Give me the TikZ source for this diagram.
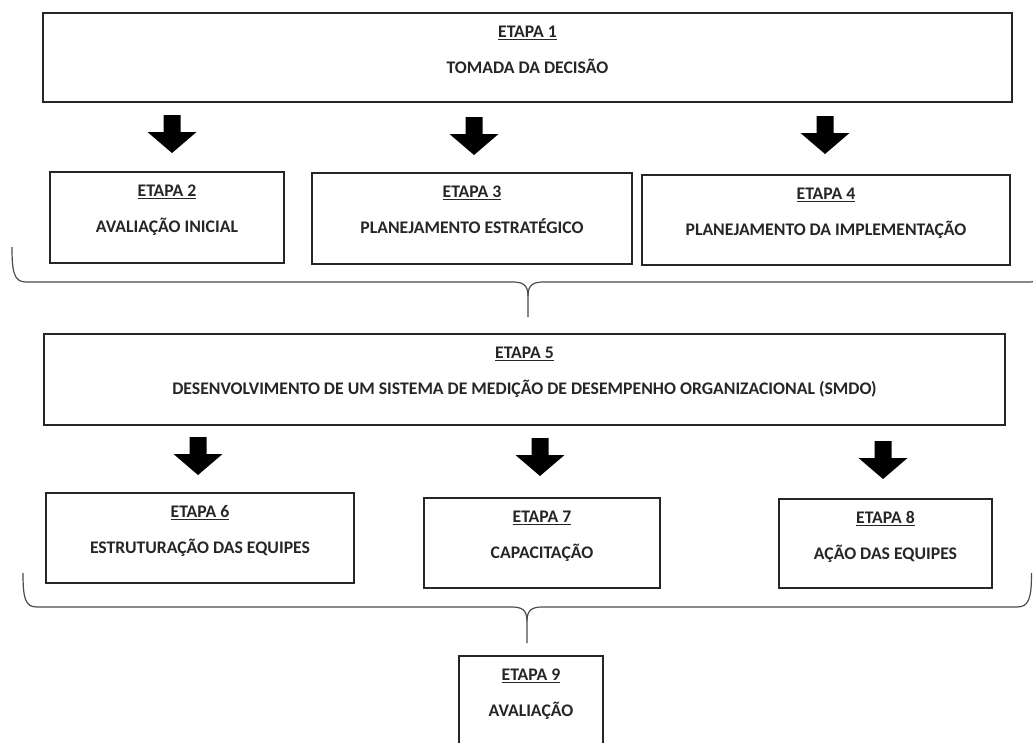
\documentclass[tikz,border=0pt]{standalone}
\usepackage{fontspec}
\setmainfont{Carlito}
\usetikzlibrary{calc}
\newcommand\mkbox[7]{%
  \node[box,minimum width=#4pt,minimum height=#5pt] (#1) at (#2,#3) {};
  \node[lbl,anchor=base] (#1e) at ($(#1.north)+(0,25.5)$) {\underline{ETAPA #6}};
  \node[lbl,anchor=base] (#1t) at ($(#1.north)+(0,61.5)$) {#7};}
\begin{document}
\begin{tikzpicture}[x=1pt,y=-1pt,
  box/.style={draw=black!85, line width=1.5pt, rectangle, inner sep=0pt, fill=white},
  lbl/.style={font=\bfseries\fontsize{17.7}{21}\selectfont, text=black!85, inner sep=0pt},
  brace/.style={draw=black!70, line width=1.2pt},
  bigarrow/.pic={\fill[black] (-8.5,0) -- (8.5,0) -- (8.5,17) -- (24.5,17) -- (0,38) -- (-24.5,17) -- (-8.5,17) -- cycle;}]
\clip (0,0) rectangle (1033,742);
\fill[white] (0,0) rectangle (1033,742);

% boxes
\mkbox{b1}{527.5}{57.5}{969}{89}{1}{TOMADA DA DECISÃO}
\mkbox{b2}{167}{217.5}{234}{91}{2}{AVALIAÇÃO INICIAL}
\mkbox{b3}{472}{218.5}{320}{91}{3}{PLANEJAMENTO ESTRATÉGICO}
\mkbox{b4}{826}{220}{368}{90}{4}{PLANEJAMENTO DA IMPLEMENTAÇÃO}
\mkbox{b5}{524.5}{379.5}{961}{91}{5}{DESENVOLVIMENTO DE UM SISTEMA DE MEDIÇÃO DE DESEMPENHO ORGANIZACIONAL (SMDO)}
\mkbox{b6}{200}{538}{308}{90}{6}{ESTRUTURAÇÃO DAS EQUIPES}
\mkbox{b7}{542}{543}{236}{90}{7}{CAPACITAÇÃO}
\mkbox{b8}{885.5}{543.5}{213}{89}{8}{AÇÃO DAS EQUIPES}
\mkbox{b9}{531}{708}{144}{104}{9}{AVALIAÇÃO}

% block arrows
\pic at (172,115) {bigarrow};
\pic at (474,117) {bigarrow};
\pic at (825,116) {bigarrow};
\pic at (198,437) {bigarrow};
\pic at (540,438) {bigarrow};
\pic at (883,441) {bigarrow};

% braces
\coordinate (tip1) at (528,317);
\coordinate (tip2) at (527,643);
\draw[brace] (12,247) .. controls (12,272) and (14,282) .. (26,282) -- (512,282)
  .. controls (522,282) and (528,284) .. (528,296) -- (tip1);
\draw[brace] (528,296) .. controls (528,284) and (534,282) .. (544,282) -- (1030,282)
  .. controls (1042,282) and (1044,272) .. (1044,247);
\draw[brace] (23,573) .. controls (23,598) and (25,607) .. (37,607) -- (511,607)
  .. controls (521,607) and (527,609) .. (527,621) -- (tip2);
\draw[brace] (527,621) .. controls (527,609) and (533,607) .. (543,607) -- (1017,607)
  .. controls (1029,607) and (1031.5,598) .. (1031.5,573);
\end{tikzpicture}
\end{document}
